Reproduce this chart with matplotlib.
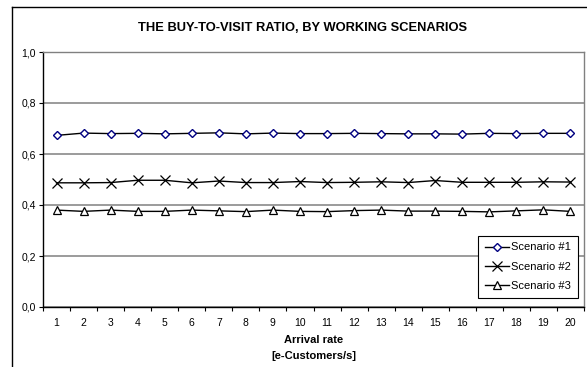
import matplotlib.pyplot as plt
from matplotlib.lines import Line2D
import numpy as np

plt.rcParams["font.family"] = ["Liberation Sans", "DejaVu Sans"]

arrival_rate = list(range(1, 21))
scenario_1 = [0.673, 0.682, 0.680, 0.681, 0.679, 0.681, 0.683, 0.679, 0.682, 0.680,
              0.680, 0.681, 0.680, 0.679, 0.679, 0.678, 0.681, 0.680, 0.681, 0.681]
scenario_2 = [0.487, 0.487, 0.488, 0.497, 0.497, 0.487, 0.494, 0.488, 0.488, 0.492,
              0.488, 0.489, 0.491, 0.488, 0.496, 0.489, 0.489, 0.489, 0.491, 0.490]
scenario_3 = [0.380, 0.375, 0.380, 0.375, 0.375, 0.380, 0.377, 0.374, 0.380, 0.375,
              0.374, 0.378, 0.380, 0.376, 0.376, 0.375, 0.373, 0.377, 0.381, 0.375]
y_ticks = [0.0, 0.2, 0.4, 0.6, 0.8, 1.0]

W, H = 587, 367
fig = plt.figure(figsize=(W / 100, H / 100), dpi=100)
ax = fig.add_axes([43 / W, 1 - 307 / H, (584 - 43) / W, (307 - 52) / H])

# chart frame (left and top edges only)
fig.add_artist(Line2D([12 / W, 12 / W], [0, 1 - 7 / H], color="black", lw=1,
                      transform=fig.transFigure))
fig.add_artist(Line2D([12 / W, 1], [1 - 7 / H, 1 - 7 / H], color="black", lw=1,
                      transform=fig.transFigure))

ax.plot(arrival_rate, scenario_1, color="black", lw=1, marker="D", ms=4.2,
        mfc="white", mec="#000080", mew=1, label="Scenario #1")
ax.plot(arrival_rate, scenario_2, color="black", lw=1, marker="x", ms=6.5,
        mec="black", mew=0.9, label="Scenario #2")
ax.plot(arrival_rate, scenario_3, color="black", lw=1, marker="^", ms=6,
        mfc="white", mec="black", mew=0.9, label="Scenario #3")

ax.set_xlim(0.5, 20.5)
ax.set_ylim(0, 1.0)
ax.set_yticks(y_ticks)
ax.set_yticklabels([f"{v:.1f}".replace(".", ",") for v in y_ticks], fontsize=7.5)
ax.yaxis.grid(True, color="#808080", lw=1.1)
ax.set_axisbelow(True)

# category axis: ticks between categories, labels centred on them
ax.set_xticks(np.arange(0.5, 21, 1))
ax.set_xticklabels([])
ax.set_xticks(arrival_rate, minor=True)
ax.set_xticklabels([str(v) for v in arrival_rate], minor=True, fontsize=7.5)
ax.tick_params(axis="x", which="major", length=3, width=0.8, direction="out")
ax.tick_params(axis="x", which="minor", length=0, pad=8)
ax.tick_params(axis="y", length=3, width=0.8, pad=2)

for side in ("left", "bottom"):
    ax.spines[side].set_color("black")
    ax.spines[side].set_linewidth(1)
for side in ("top", "right"):
    ax.spines[side].set_color("#808080")
    ax.spines[side].set_linewidth(1)

ax.set_xlabel("Arrival rate\n[e-Customers/s]", fontsize=8, fontweight="bold",
              labelpad=5, linespacing=1.7)
fig.text(303 / W, 1 - 28 / H, "THE BUY-TO-VISIT RATIO, BY WORKING SCENARIOS",
         ha="center", va="center", fontsize=9.3, fontweight="bold")

leg = ax.legend(loc="lower right", bbox_to_anchor=(578 / W, 1 - 298 / H),
                bbox_transform=fig.transFigure, fontsize=8, frameon=True,
                fancybox=False, edgecolor="black", framealpha=1,
                handlelength=2.2, handletextpad=0.2, borderpad=0.6,
                labelspacing=0.85, borderaxespad=0)
leg.get_frame().set_linewidth(0.8)

fig.savefig("out.png", dpi=100)
